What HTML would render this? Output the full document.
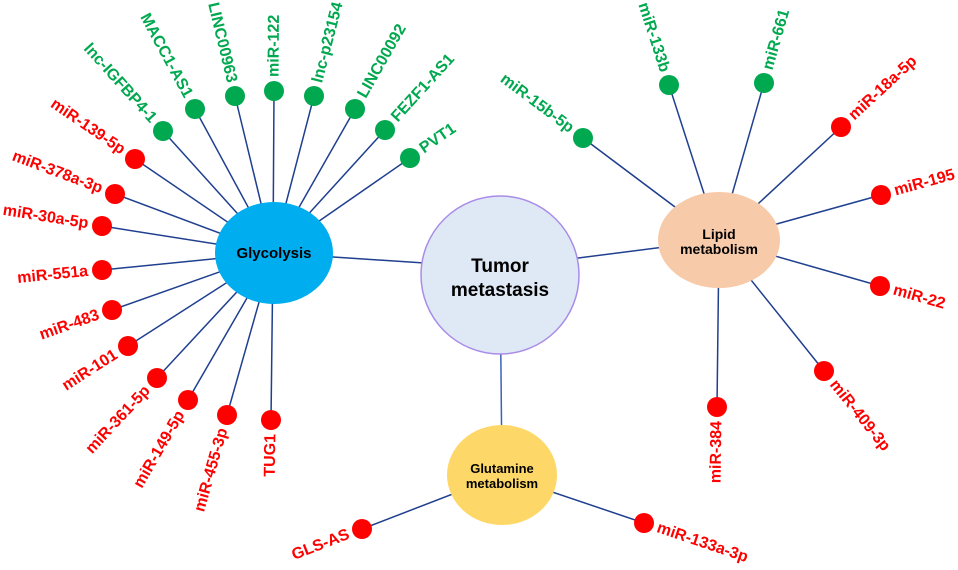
<!DOCTYPE html>
<html><head><meta charset="utf-8"><style>
html,body{margin:0;padding:0;background:#fff;}
svg{display:block;font-family:"Liberation Sans",Arial,sans-serif;}
.g{fill:#00a84f;font-weight:bold;font-size:16px;}
.r{fill:#ff0000;font-weight:bold;font-size:16px;}
</style></head><body>
<svg width="958" height="570" viewBox="0 0 958 570" xmlns="http://www.w3.org/2000/svg">
<g stroke="#1f3f8f" stroke-width="1.5">
<line x1="273" y1="253" x2="163" y2="131"/><line x1="273" y1="253" x2="195" y2="109"/>
<line x1="273" y1="253" x2="235" y2="96"/><line x1="273" y1="253" x2="274" y2="91"/>
<line x1="273" y1="253" x2="314" y2="96"/><line x1="273" y1="253" x2="355" y2="109"/>
<line x1="273" y1="253" x2="385" y2="130"/><line x1="273" y1="253" x2="410" y2="158"/>
<line x1="273" y1="253" x2="135" y2="159"/><line x1="273" y1="253" x2="115" y2="194"/>
<line x1="273" y1="253" x2="102" y2="226"/><line x1="273" y1="253" x2="102" y2="270"/>
<line x1="273" y1="253" x2="112" y2="310"/><line x1="273" y1="253" x2="128" y2="346"/>
<line x1="273" y1="253" x2="157" y2="378"/><line x1="273" y1="253" x2="188" y2="400"/>
<line x1="273" y1="253" x2="227" y2="415"/><line x1="273" y1="253" x2="271" y2="420"/>
<line x1="502" y1="475" x2="362" y2="529"/><line x1="502" y1="475" x2="644" y2="523"/>
<line x1="719" y1="240" x2="583" y2="138"/><line x1="719" y1="240" x2="669" y2="85"/>
<line x1="719" y1="240" x2="764" y2="83"/><line x1="719" y1="240" x2="841" y2="127"/>
<line x1="719" y1="240" x2="881" y2="195"/><line x1="719" y1="240" x2="880" y2="286"/>
<line x1="719" y1="240" x2="824" y2="371"/><line x1="719" y1="240" x2="717" y2="407"/>
<line x1="273" y1="253" x2="500" y2="268"/><line x1="500" y1="268" x2="719" y2="240"/>
<line x1="500" y1="268" x2="502" y2="475" stroke="#3a62b8"/>
</g>
<circle cx="500" cy="275" r="79" fill="#dfe9f5" stroke="#a98ce8" stroke-width="1.5"/>
<ellipse cx="274" cy="253" rx="59" ry="51" fill="#00adef"/>
<ellipse cx="719" cy="240" rx="61" ry="48" fill="#f7caa9"/>
<ellipse cx="502" cy="475" rx="55" ry="50" fill="#fdd868"/>
<g font-weight="bold" fill="#000" text-anchor="middle">
<text x="274" y="258" font-size="15">Glycolysis</text>
<text x="500" y="272" font-size="19">Tumor</text>
<text x="500" y="296" font-size="19">metastasis</text>
<text x="719" y="239" font-size="14">Lipid</text>
<text x="719" y="254" font-size="14">metabolism</text>
<text x="502" y="473" font-size="13">Glutamine</text>
<text x="502" y="488" font-size="13">metabolism</text>
</g>
<g fill="#00a84f">
<circle cx="163" cy="131" r="10"/><circle cx="195" cy="109" r="10"/><circle cx="235" cy="96" r="10"/>
<circle cx="274" cy="91" r="10"/><circle cx="314" cy="96" r="10"/><circle cx="355" cy="109" r="10"/>
<circle cx="385" cy="130" r="10"/><circle cx="410" cy="158" r="10"/>
<circle cx="583" cy="138" r="10"/><circle cx="669" cy="85" r="10"/><circle cx="764" cy="83" r="10"/>
</g>
<g fill="#ff0000">
<circle cx="135" cy="159" r="10"/><circle cx="115" cy="194" r="10"/><circle cx="102" cy="226" r="10"/>
<circle cx="102" cy="270" r="10"/><circle cx="112" cy="310" r="10"/><circle cx="128" cy="346" r="10"/>
<circle cx="157" cy="378" r="10"/><circle cx="188" cy="400" r="10"/><circle cx="227" cy="415" r="10"/>
<circle cx="271" cy="420" r="10"/><circle cx="362" cy="529" r="10"/><circle cx="644" cy="523" r="10"/>
<circle cx="841" cy="127" r="10"/><circle cx="881" cy="195" r="10"/><circle cx="880" cy="286" r="10"/>
<circle cx="824" cy="371" r="10"/><circle cx="717" cy="407" r="10"/>
</g>
<g dominant-baseline="central">
<text class="g" text-anchor="end" transform="translate(153.6,120.6) rotate(48)">lnc-IGFBP4-1</text>
<text class="g" text-anchor="end" transform="translate(188.3,96.7) rotate(61.6)">MACC1-AS1</text>
<text class="g" text-anchor="end" transform="translate(231.7,82.4) rotate(76.4)">LINC00963</text>
<text class="g" transform="translate(274,77) rotate(-89.6)">miR-122</text>
<text class="g" transform="translate(317.5,82.5) rotate(-75.4)">lnc-p23154</text>
<text class="g" transform="translate(361.9,96.8) rotate(-60.3)">LINC00092</text>
<text class="g" transform="translate(394.4,119.6) rotate(-47.7)">FEZF1-AS1</text>
<text class="g" transform="translate(421.5,150) rotate(-34.7)">PVT1</text>
<text class="r" text-anchor="end" transform="translate(123.4,151.1) rotate(34.3)">miR-139-5p</text>
<text class="r" text-anchor="end" transform="translate(101.9,189.1) rotate(20.5)">miR-378a-3p</text>
<text class="r" text-anchor="end" transform="translate(88.2,223.8) rotate(9)">miR-30a-5p</text>
<text class="r" text-anchor="end" transform="translate(88.1,271.4) rotate(-5.7)">miR-551a</text>
<text class="r" text-anchor="end" transform="translate(98.8,314.7) rotate(-19.5)">miR-483</text>
<text class="r" text-anchor="end" transform="translate(116.2,353.6) rotate(-32.7)">miR-101</text>
<text class="r" text-anchor="end" transform="translate(147.5,388.3) rotate(-47.1)">miR-361-5p</text>
<text class="r" text-anchor="end" transform="translate(181,412.1) rotate(-60)">miR-149-5p</text>
<text class="r" text-anchor="end" transform="translate(223.2,428.5) rotate(-74.1)">miR-455-3p</text>
<text class="r" text-anchor="end" transform="translate(270.8,434) rotate(-89.3)">TUG1</text>
<text class="r" text-anchor="end" transform="translate(348.9,534) rotate(-21.1)">GLS-AS</text>
<text class="r" transform="translate(657.3,527.5) rotate(18.7)">miR-133a-3p</text>
<text class="g" text-anchor="end" transform="translate(571.8,129.6) rotate(36.9)">miR-15b-5p</text>
<text class="g" text-anchor="end" transform="translate(664.7,71.7) rotate(72.1)">miR-133b</text>
<text class="g" transform="translate(767.9,69.5) rotate(-74)">miR-661</text>
<text class="r" transform="translate(851.3,117.5) rotate(-42.8)">miR-18a-5p</text>
<text class="r" transform="translate(894.5,191.2) rotate(-15.5)">miR-195</text>
<text class="r" transform="translate(893.5,289.9) rotate(15.9)">miR-22</text>
<text class="r" transform="translate(832.8,381.9) rotate(51.3)">miR-409-3p</text>
<text class="r" text-anchor="end" transform="translate(716.8,421) rotate(-89.3)">miR-384</text>
</g>
</svg>
</body></html>
